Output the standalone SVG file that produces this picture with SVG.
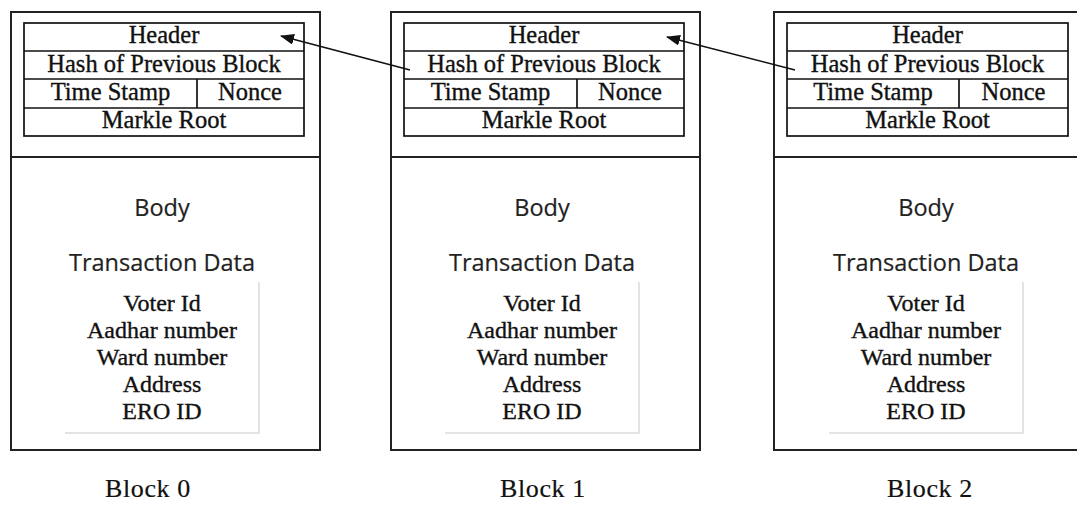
<svg xmlns="http://www.w3.org/2000/svg" width="1077" height="506" viewBox="0 0 1077 506">
  <defs>
    <style>
      .frame{fill:none;stroke:#222;stroke-width:2}
      .cell{fill:none;stroke:#111;stroke-width:1.7}
      .shadow{fill:none;stroke:#e3e3e3;stroke-width:2}
      .hdr{font-family:"Liberation Serif","Times New Roman",serif;font-size:24.5px;fill:#111;stroke:#111;stroke-width:0.35;text-anchor:middle}
      .sans{font-family:"Open Sans","Noto Sans",sans-serif;font-size:23.5px;fill:#222;stroke:#222;stroke-width:0.2;text-anchor:middle}
      .field{font-family:"Liberation Serif","Times New Roman",serif;font-size:24px;fill:#111;stroke:#111;stroke-width:0.35;text-anchor:middle}
      .caption{font-family:"Liberation Serif","Times New Roman",serif;font-size:26px;letter-spacing:0.6px;fill:#111;stroke:#111;stroke-width:0.2;text-anchor:middle}
      .link{fill:none;stroke:#111;stroke-width:1.6;marker-end:url(#head)}
    </style>
    <marker id="head" markerUnits="userSpaceOnUse" markerWidth="14" markerHeight="11" refX="13" refY="5.5" orient="auto" viewBox="0 0 14 11">
      <path d="M0,0 L14,5.5 L0,11 z" fill="#111"/>
    </marker>
  </defs>

  <!-- Block 0 -->
  <g id="block0" transform="translate(11,0)">
    <rect class="frame" x="0" y="12" width="309" height="438"/>
    <line class="frame" x1="0" y1="157" x2="309" y2="157"/>
    <rect class="cell" x="13" y="23" width="280" height="113"/>
    <line class="cell" x1="13" y1="51" x2="293" y2="51"/>
    <line class="cell" x1="13" y1="79" x2="293" y2="79"/>
    <line class="cell" x1="13" y1="108" x2="293" y2="108"/>
    <line class="cell" x1="186" y1="79" x2="186" y2="108"/>
    <text class="hdr" x="153" y="43">Header</text>
    <text class="hdr" x="153" y="72">Hash of Previous Block</text>
    <text class="hdr" x="99.5" y="100">Time Stamp</text>
    <text class="hdr" x="239" y="100">Nonce</text>
    <text class="hdr" x="153" y="128">Markle Root</text>
    <text class="sans" x="151" y="216">Body</text>
    <text class="sans" x="151" y="271">Transaction Data</text>
    <polyline class="shadow" points="248,282 248,433 54,433"/>
    <text class="field" x="151" y="311">Voter Id</text>
    <text class="field" x="151" y="338">Aadhar number</text>
    <text class="field" x="151" y="365">Ward number</text>
    <text class="field" x="151" y="392">Address</text>
    <text class="field" x="151" y="419">ERO ID</text>
    <text class="caption" x="137" y="497">Block 0</text>
  </g>

  <!-- Block 1 -->
  <g id="block1" transform="translate(391,0)">
    <rect class="frame" x="0" y="12" width="309" height="438"/>
    <line class="frame" x1="0" y1="157" x2="309" y2="157"/>
    <rect class="cell" x="13" y="23" width="280" height="113"/>
    <line class="cell" x1="13" y1="51" x2="293" y2="51"/>
    <line class="cell" x1="13" y1="79" x2="293" y2="79"/>
    <line class="cell" x1="13" y1="108" x2="293" y2="108"/>
    <line class="cell" x1="186" y1="79" x2="186" y2="108"/>
    <text class="hdr" x="153" y="43">Header</text>
    <text class="hdr" x="153" y="72">Hash of Previous Block</text>
    <text class="hdr" x="99.5" y="100">Time Stamp</text>
    <text class="hdr" x="239" y="100">Nonce</text>
    <text class="hdr" x="153" y="128">Markle Root</text>
    <text class="sans" x="151" y="216">Body</text>
    <text class="sans" x="151" y="271">Transaction Data</text>
    <polyline class="shadow" points="248,282 248,433 54,433"/>
    <text class="field" x="151" y="311">Voter Id</text>
    <text class="field" x="151" y="338">Aadhar number</text>
    <text class="field" x="151" y="365">Ward number</text>
    <text class="field" x="151" y="392">Address</text>
    <text class="field" x="151" y="419">ERO ID</text>
    <text class="caption" x="152" y="497">Block 1</text>
  </g>

  <!-- Block 2 -->
  <g id="block2" transform="translate(774,0)">
    <rect class="frame" x="0" y="12" width="309" height="438"/>
    <line class="frame" x1="0" y1="157" x2="309" y2="157"/>
    <rect class="cell" x="13" y="23" width="281" height="113"/>
    <line class="cell" x1="13" y1="51" x2="294" y2="51"/>
    <line class="cell" x1="13" y1="79" x2="294" y2="79"/>
    <line class="cell" x1="13" y1="108" x2="294" y2="108"/>
    <line class="cell" x1="185" y1="79" x2="185" y2="108"/>
    <text class="hdr" x="153.5" y="43">Header</text>
    <text class="hdr" x="153.5" y="72">Hash of Previous Block</text>
    <text class="hdr" x="99" y="100">Time Stamp</text>
    <text class="hdr" x="239.5" y="100">Nonce</text>
    <text class="hdr" x="153.5" y="128">Markle Root</text>
    <text class="sans" x="152" y="216">Body</text>
    <text class="sans" x="152" y="271">Transaction Data</text>
    <polyline class="shadow" points="249,282 249,433 55,433"/>
    <text class="field" x="152" y="311">Voter Id</text>
    <text class="field" x="152" y="338">Aadhar number</text>
    <text class="field" x="152" y="365">Ward number</text>
    <text class="field" x="152" y="392">Address</text>
    <text class="field" x="152" y="419">ERO ID</text>
    <text class="caption" x="156" y="497">Block 2</text>
  </g>

  <!-- hash links back to the previous block's header -->
  <g id="connectors">
    <line class="link" x1="410" y1="70" x2="281" y2="36"/>
    <line class="link" x1="795" y1="70" x2="667" y2="37"/>
  </g>
</svg>
